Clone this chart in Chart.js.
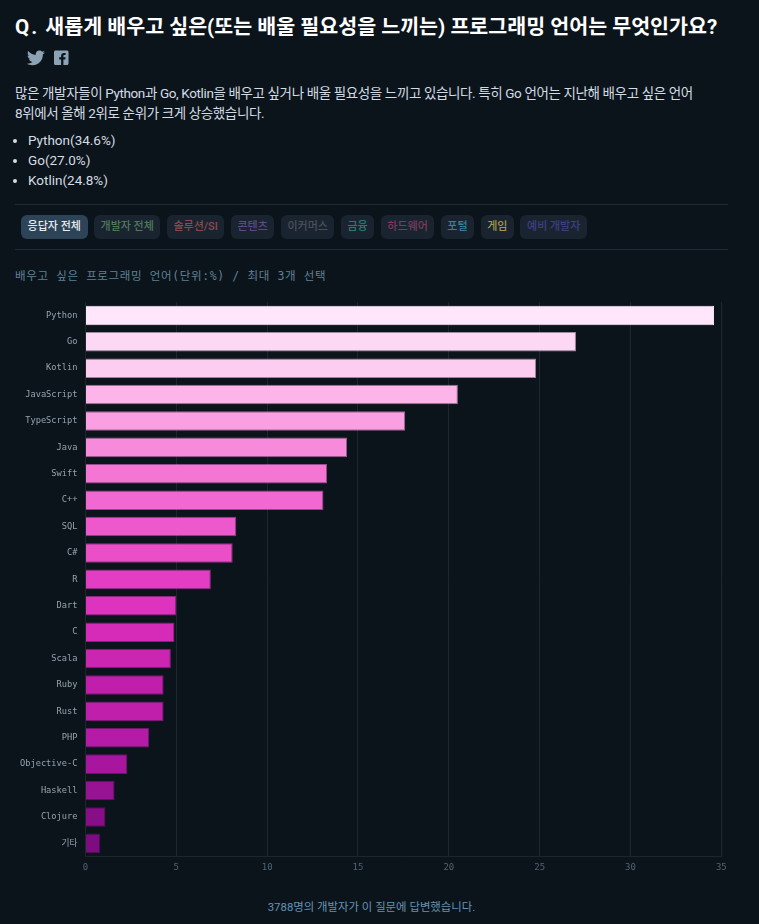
<!DOCTYPE html>
<html lang="ko">
<head>
<meta charset="UTF-8">
<title>새롭게 배우고 싶은 프로그래밍 언어</title>
<script src="https://cdn.jsdelivr.net/npm/chart.js"></script>
<style>
    html, body { margin: 0; padding: 0; background: #0c141b; }
    body { position: relative; width: 759px; height: 924px; overflow: hidden; font-family: Roboto, "Noto Sans CJK KR", sans-serif; }
    h1 { position: absolute; left: 15px; top: 12px; margin: 0; font-size: 20.6px; line-height: 30px; font-weight: 700; color: #fff; white-space: nowrap; }
    h1 span { letter-spacing: 2px; margin-right: 1px; }
    #icons { position: absolute; left: 27px; top: 50px; }
    p { position: absolute; left: 15px; top: 83px; margin: 0; font-size: 13.5px; letter-spacing: -0.38px; line-height: 20px; color: #d3dce4; white-space: nowrap; }
    ul { position: absolute; left: 28px; top: 130px; margin: 0; padding: 0; font-size: 13.5px; line-height: 20px; color: #d3dce4; }
    hr { position: absolute; left: 15px; width: 713px; margin: 0; border: 0; height: 1px; background: #1f2b38; }
    #chips { position: absolute; left: 21px; top: 215px; display: flex; gap: 6.4px; }
    #chips span { height: 24px; line-height: 24px; padding: 0 6.6px; border-radius: 6px; background: #1a2430; font-size: 11px; font-weight: 500; white-space: nowrap; }
    #sub { position: absolute; left: 15px; top: 268px; font-family: "DejaVu Sans Mono", "Noto Sans CJK KR", monospace; font-size: 11.5px; letter-spacing: 0.63px; line-height: 16px; color: #5e8096; white-space: nowrap; }
    #wrap { position: absolute; left: 0; top: 289px; width: 759px; height: 597px; }
    #foot { position: absolute; left: 0; width: 743px; top: 899px; text-align: center; font-size: 11.4px; line-height: 16px; color: #6493b4; }
</style>
</head>
<body>
<h1><span>Q.</span> 새롭게 배우고 싶은(또는 배울 필요성을 느끼는) 프로그래밍 언어는 무엇인가요?</h1>
<div id="icons">
    <svg width="48" height="16" viewBox="0 0 48 16">
        <path fill="#8ba3b5" d="M18 2.2c-.7.3-1.4.5-2.1.6.8-.5 1.3-1.2 1.6-2-.7.4-1.5.7-2.3.9C14.500.9 13.500.400 12.400.400c-2 0-3.700 1.700-3.700 3.700 0 .3 0 .6.100.8C5.700 4.800 3 3.300 1.200 1c-.3.500-.5 1.200-.5 1.900 0 1.300.7 2.400 1.600 3.100-.6 0-1.200-.2-1.700-.5 0 1.800 1.300 3.300 3 3.700-.6.100-1.100.2-1.700.100.5 1.500 1.800 2.500 3.500 2.600C3.500 13.100 1.600 13.800-.4 13.600 1.300 14.700 3.300 15.300 5.400 15.300c6.800 0 10.500-5.600 10.500-10.500v-.5c.8-.5 1.500-1.200 2.100-2.100z"/>
        <path fill="#8ba3b5" d="M28.500 .5h11.500c.8 0 1.500.7 1.500 1.500v11.500c0 .8-.7 1.500-1.500 1.500H36.400V9.500h1.900l.3-2.200h-2.200V5.900c0-.6.2-1 1-1h1.200V3c-.2 0-.9-.1-1.700-.1-1.700 0-2.800 1-2.800 2.900v1.500h-1.900v2.200h1.900V15h-5.600c-.8 0-1.500-.7-1.500-1.500V2c0-.8.700-1.500 1.500-1.500z"/>
    </svg>
</div>
<p>많은 개발자들이 Python과 Go, Kotlin을 배우고 싶거나 배울 필요성을 느끼고 있습니다. 특히 Go 언어는 지난해 배우고 싶은 언어<br>8위에서 올해 2위로 순위가 크게 상승했습니다.</p>
<ul>
    <li>Python(34.6%)</li>
    <li>Go(27.0%)</li>
    <li>Kotlin(24.8%)</li>
</ul>
<hr style="top:204px">
<div id="chips">
    <span style="background:#2d4358;color:#e8edf0">응답자 전체</span>
    <span style="color:#4f7a5a">개발자 전체</span>
    <span style="color:#8a4a4e">솔루션/SI</span>
    <span style="color:#5a4a85">콘텐츠</span>
    <span style="color:#4a4f58">이커머스</span>
    <span style="color:#2d7a70">금융</span>
    <span style="color:#7a3b5c">하드웨어</span>
    <span style="color:#3a7fa0">포털</span>
    <span style="color:#a09a50">게임</span>
    <span style="color:#3d3f80">예비 개발자</span>
</div>
<hr style="top:249px">
<div id="sub">배우고 싶은 프로그래밍 언어(단위:%) / 최대 3개 선택</div>
<div id="wrap"><canvas id="langChart" width="759" height="597"></canvas></div>
<div id="foot">3788명의 개발자가 이 질문에 답변했습니다.</div>

<script>
    const languages = ['Python', 'Go', 'Kotlin', 'JavaScript', 'TypeScript', 'Java', 'Swift', 'C++', 'SQL', 'C#', 'R',
        'Dart', 'C', 'Scala', 'Ruby', 'Rust', 'PHP', 'Objective-C', 'Haskell', 'Clojure', '기타'];
    const percents = [34.6, 27.0, 24.8, 20.5, 17.6, 14.4, 13.3, 13.1, 8.3, 8.1, 6.9,
        5.0, 4.9, 4.7, 4.3, 4.3, 3.5, 2.3, 1.6, 1.1, 0.8];
    const barColors = ['#FFE6FB', '#FDD8F5', '#FCCDF1', '#FCB4E9', '#FB9FE3', '#F88ADC', '#F575D5', '#F268D3', '#EE58CD', '#EB4FC8', '#E23DC3',
        '#DD33BE', '#D62BB8', '#CC25B2', '#C01FAC', '#C01FAC', '#B41BA7', '#A8159F', '#981294', '#880E88', '#7C0C80'];

    const monoFont = '"DejaVu Sans Mono", "Noto Sans CJK KR", monospace';

    new Chart(document.getElementById('langChart'), {
        type: 'bar',
        data: {
            labels: languages,
            datasets: [{
                data: percents,
                backgroundColor: barColors,
                // dim edge, python bar has none visible
                borderColor: barColors.map((c, i) => i === 0 ? c : c + '99'),
                borderWidth: 1,
                categoryPercentage: 1,
                barPercentage: 0.74
            }]
        },
        options: {
            indexAxis: 'y',
            responsive: false,
            animation: false,
            layout: { padding: { top: 12, right: 37.7, bottom: 0, left: 0 } },
            plugins: { legend: { display: false }, tooltip: { enabled: false } },
            scales: {
                x: {
                    min: 0,
                    max: 35,
                    afterFit: s => { s.height = 29.5; },
                    ticks: { stepSize: 5, maxRotation: 0, color: '#4f6474', padding: 6, font: { family: monoFont, size: 9 } },
                    grid: { color: '#1d262e', drawTicks: false },
                    border: { color: '#1d262e' }
                },
                y: {
                    afterFit: s => { s.width = 85.5; },
                    ticks: { autoSkip: false, color: '#95a3ae', padding: 8, font: { family: monoFont, size: 8.7 } },
                    grid: { display: false, drawTicks: false },
                    border: { color: '#1d262e' }
                }
            }
        }
    });
</script>
</body>
</html>
